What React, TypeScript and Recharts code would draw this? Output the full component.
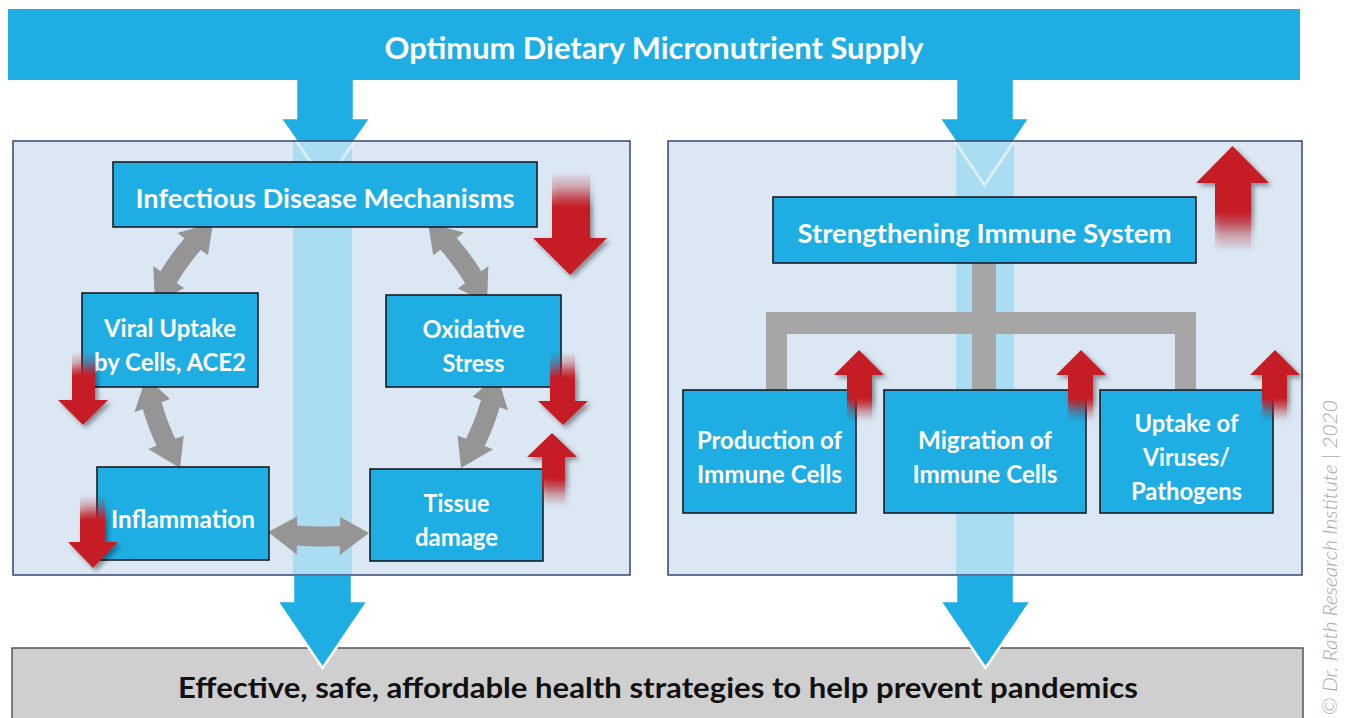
import React from 'react';
import { ComposedChart, XAxis, YAxis, ReferenceArea } from 'recharts';

// ---------------- data ----------------
const bannerText = 'Optimum Dietary Micronutrient Supply';
const footerText = 'Effective, safe, affordable health strategies to help prevent pandemics';
const creditText = '© Dr. Rath Research Institute | 2020';

const bannerBox = { x1: 8, x2: 1300, y1: 9, y2: 80 };
const footerBox = { x1: 12, x2: 1303, y1: 648, y2: 726 };
const creditBox = { x1: 1318, x2: 1340, y1: 400, y2: 715 };

const panelBoxes = [
  { x1: 13, x2: 630, y1: 141, y2: 575 },
  { x1: 668, x2: 1302, y1: 141, y2: 575 },
];

const bandBoxes = [
  { x1: 293, x2: 352, y1: 141, y2: 575 },
  { x1: 956, x2: 1014, y1: 141, y2: 575 },
];

const topArrows = [
  { x1: 280, x2: 371, shaftX1: 296, shaftX2: 354, y1: 70, headY: 118, y2: 183 },
  { x1: 939, x2: 1030, shaftX1: 956, shaftX2: 1014, y1: 70, headY: 118, y2: 185 },
];

const bottomArrows = [
  { x1: 277, x2: 368, shaftX1: 293, shaftX2: 352, y1: 576, headY: 601, y2: 668 },
  { x1: 940, x2: 1031, shaftX1: 956, shaftX2: 1014, y1: 576, headY: 601, y2: 668 },
];

const mechanismBoxes = [
  { lines: ['Infectious Disease Mechanisms'], x1: 113, x2: 537, y1: 162, y2: 227, big: true },
  { lines: ['Viral Uptake', 'by Cells, ACE2'], x1: 82, x2: 258, y1: 293, y2: 387 },
  { lines: ['Oxidative', 'Stress'], x1: 386, x2: 561, y1: 295, y2: 387 },
  { lines: ['Inflammation'], x1: 97, x2: 269, y1: 467, y2: 560 },
  { lines: ['Tissue', 'damage'], x1: 370, x2: 543, y1: 469, y2: 561 },
];

const immuneBoxes = [
  { lines: ['Strengthening Immune System'], x1: 773, x2: 1196, y1: 197, y2: 263, big: true },
  { lines: ['Production of', 'Immune Cells'], x1: 683, x2: 856, y1: 390, y2: 513 },
  { lines: ['Migration of', 'Immune Cells'], x1: 884, x2: 1086, y1: 390, y2: 513 },
  { lines: ['Uptake of', 'Viruses/', 'Pathogens'], x1: 1100, x2: 1273, y1: 390, y2: 513 },
];

// grey two-headed links between mechanism boxes (end A -> end B)
const links = [
  { ax: 155, ay: 303, bx: 213, by: 223, bend: -5 },
  { ax: 428, ay: 223, bx: 487, by: 303, bend: -5 },
  { ax: 146, ay: 377, bx: 180, by: 468, bend: 5 },
  { ax: 497, ay: 375, bx: 461, by: 468, bend: -5 },
  { ax: 268, ay: 532, bx: 369, by: 533, bend: 4 },
];

// grey tree connector in the immune panel
const treeBars = [
  { x1: 972, x2: 996, y1: 262, y2: 313 },
  { x1: 766, x2: 1196, y1: 312, y2: 334 },
  { x1: 766, x2: 787, y1: 333, y2: 391 },
  { x1: 972, x2: 996, y1: 333, y2: 391 },
  { x1: 1175, x2: 1196, y1: 333, y2: 391 },
];

// red effect arrows (down = decreases, up = increases)
const redArrows = [
  { dir: 'down', x1: 533, x2: 607, shaftX1: 552, shaftX2: 590, tail: 172, solid: 207, headY: 238, tip: 275 },
  { dir: 'down', x1: 58, x2: 108, shaftX1: 72, shaftX2: 95, tail: 352, solid: 376, headY: 400, tip: 425 },
  { dir: 'down', x1: 68, x2: 118, shaftX1: 80, shaftX2: 105, tail: 495, solid: 520, headY: 542, tip: 568 },
  { dir: 'down', x1: 538, x2: 588, shaftX1: 550, shaftX2: 575, tail: 352, solid: 378, headY: 401, tip: 425 },
  { dir: 'up', x1: 527, x2: 577, shaftX1: 542, shaftX2: 565, tail: 505, solid: 478, headY: 457, tip: 433 },
  { dir: 'up', x1: 1196, x2: 1269, shaftX1: 1215, shaftX2: 1251, tail: 250, solid: 212, headY: 183, tip: 146 },
  { dir: 'up', x1: 834, x2: 884, shaftX1: 847, shaftX2: 872, tail: 420, solid: 398, headY: 375, tip: 350 },
  { dir: 'up', x1: 1056, x2: 1106, shaftX1: 1068, shaftX2: 1093, tail: 420, solid: 398, headY: 375, tip: 350 },
  { dir: 'up', x1: 1250, x2: 1300, shaftX1: 1262, shaftX2: 1287, tail: 420, solid: 398, headY: 375, tip: 350 },
];

// ---------------- styles ----------------
const BLUE = '#1EAEE3';
const PANEL = '#DBE8F4';
const BAND = '#AADCF2';
const PANEL_EDGE = '#33466F';
const GREY_LINK = '#959595';
const GREY_TREE = '#A6A6A6';
const RED = '#C61F28';
const FONT = 'Lato, "Open Sans", sans-serif';

const lineWidths: Record<string, number> = {
  [bannerText]: 539,
  [footerText]: 960,
  [creditText]: 315,
  'Infectious Disease Mechanisms': 379,
  'Strengthening Immune System': 374,
  'Viral Uptake': 132,
  'by Cells, ACE2': 152,
  'Oxidative': 102,
  'Stress': 62,
  'Inflammation': 144,
  'Tissue': 66,
  'damage': 83,
  'Production of': 145,
  'Immune Cells': 145,
  'Migration of': 134,
  'Uptake of': 104,
  'Viruses/': 87,
  'Pathogens': 111,
};

type Box = { x1: number; x2: number; y1: number; y2: number };

const area = (key: string, b: Box, shape: (p: any) => React.ReactElement) => (
  <ReferenceArea
    key={key}
    x1={b.x1}
    x2={b.x2}
    y1={b.y1}
    y2={b.y2}
    ifOverflow="visible"
    shape={shape}
  />
);

const plainRect = (fill: string, stroke?: string, sw = 1.5, opacity = 1) => (p: any) => (
  <rect
    x={p.x}
    y={p.y}
    width={p.width}
    height={p.height}
    fill={fill}
    fillOpacity={opacity}
    stroke={stroke || 'none'}
    strokeWidth={sw}
  />
);

const textLine = (s: string, x: number, y: number, size: number, fill: string, extra: any = {}) => (
  <text
    key={s + y}
    x={x}
    y={y}
    textAnchor="middle"
    fontFamily={FONT}
    fontWeight={700}
    fontSize={size}
    fill={fill}
    textLength={lineWidths[s]}
    lengthAdjust="spacingAndGlyphs"
    {...extra}
  >
    {s}
  </text>
);

const bannerShape = (p: any) => (
  <g>
    <rect x={p.x} y={p.y} width={p.width} height={p.height} fill={BLUE} />
    {textLine(bannerText, p.x + p.width / 2, p.y + p.height / 2 + 14, 31, '#FFFFFF')}
  </g>
);

const footerShape = (p: any) => (
  <g>
    <rect x={p.x} y={p.y} width={p.width} height={p.height} fill="#CFCFCF" stroke="#555" strokeWidth={1.5} />
    {textLine(footerText, 658, p.y + 50, 28, '#111111')}
  </g>
);

const creditShape = (p: any) => {
  const cx = p.x + p.width - 3;
  const cy = p.y + p.height / 2;
  return (
    <text
      x={cx}
      y={cy}
      transform={`rotate(-90 ${cx} ${cy})`}
      textAnchor="middle"
      fontFamily={FONT}
      fontStyle="italic"
      fontWeight={300}
      fontSize={20}
      fill="#A8A8A8"
      textLength={lineWidths[creditText]}
      lengthAdjust="spacingAndGlyphs"
    >
      {creditText}
    </text>
  );
};

const boxShape = (lines: string[], big?: boolean) => (p: any) => {
  const cx = p.x + p.width / 2;
  const cy = p.y + p.height / 2;
  const size = big ? 27 : 24;
  return (
    <g>
      <rect x={p.x} y={p.y} width={p.width} height={p.height} fill={BLUE} stroke="#1b1b24" strokeWidth={1.6} />
      {lines.map((s, i) =>
        textLine(s, cx, cy + (i - (lines.length - 1) / 2) * 34 + (big ? 13 : 14), size, '#FFFFFF')
      )}
    </g>
  );
};

type Flow = { x1: number; x2: number; shaftX1: number; shaftX2: number; y1: number; headY: number; y2: number };

const flowGeom = (a: Flow, p: any) => {
  const fx = (v: number) => p.x + ((v - a.x1) / (a.x2 - a.x1)) * p.width;
  const fy = (v: number) => p.y + ((v - a.y1) / (a.y2 - a.y1)) * p.height;
  return {
    L: fx(a.shaftX1),
    R: fx(a.shaftX2),
    top: fy(a.y1),
    hy: fy(a.headY),
    tip: fy(a.y2),
    left: p.x,
    right: p.x + p.width,
    mid: p.x + p.width / 2,
  };
};

const flowShape = (a: Flow) => (p: any) => {
  const g = flowGeom(a, p);
  const fill = `M${g.L},${g.top} L${g.R},${g.top} L${g.R},${g.hy} L${g.right},${g.hy} L${g.mid},${g.tip} L${g.left},${g.hy} L${g.L},${g.hy} Z`;
  const outline = `M${g.R},${g.top} L${g.R},${g.hy} L${g.right},${g.hy} L${g.mid},${g.tip} L${g.left},${g.hy} L${g.L},${g.hy} L${g.L},${g.top}`;
  return (
    <g>
      <path d={fill} fill={BLUE} />
      <path d={outline} fill="none" stroke="#FFFFFF" strokeWidth={2.5} />
    </g>
  );
};

const ghostShape = (a: Flow) => (p: any) => {
  const g = flowGeom(a, p);
  return (
    <path
      d={`M${g.left},${g.hy} L${g.mid},${g.tip} L${g.right},${g.hy}`}
      fill="none"
      stroke="#FFFFFF"
      strokeOpacity={0.55}
      strokeWidth={3}
    />
  );
};

const linkBox = (l: any): Box => ({
  x1: Math.min(l.ax, l.bx),
  x2: Math.max(l.ax, l.bx),
  y1: Math.min(l.ay, l.by),
  y2: Math.max(l.ay, l.by),
});

const linkShape = (l: any) => (p: any) => {
  const b = linkBox(l);
  const fx = (v: number) => p.x + ((v - b.x1) / (b.x2 - b.x1)) * p.width;
  const fy = (v: number) => p.y + ((v - b.y1) / (b.y2 - b.y1)) * p.height;
  const A = [fx(l.ax), fy(l.ay)];
  const B = [fx(l.bx), fy(l.by)];
  const dx = B[0] - A[0];
  const dy = B[1] - A[1];
  const len = Math.hypot(dx, dy);
  const nx = -dy / len;
  const ny = dx / len;
  const P = (t: number) => [
    A[0] + dx * t + nx * l.bend * 4 * t * (1 - t),
    A[1] + dy * t + ny * l.bend * 4 * t * (1 - t),
  ];
  const headL = 29;
  const hw = 19;
  const sw = 10;
  const s0 = headL / len;
  const s1 = 1 - s0;
  const upper: number[][] = [];
  const lower: number[][] = [];
  for (let k = 0; k <= 12; k++) {
    const t = s0 + ((s1 - s0) * k) / 12;
    const q = P(t);
    upper.push([q[0] + nx * sw, q[1] + ny * sw]);
    lower.push([q[0] - nx * sw, q[1] - ny * sw]);
  }
  const p0 = P(s0);
  const p1 = P(s1);
  const pts = [
    A,
    [p0[0] + nx * hw, p0[1] + ny * hw],
    ...upper,
    [p1[0] + nx * hw, p1[1] + ny * hw],
    B,
    [p1[0] - nx * hw, p1[1] - ny * hw],
    ...lower.reverse(),
    [p0[0] - nx * hw, p0[1] - ny * hw],
  ];
  return <polygon points={pts.map((q) => `${q[0]},${q[1]}`).join(' ')} fill={GREY_LINK} />;
};

const redBox = (a: any): Box => ({
  x1: a.x1,
  x2: a.x2,
  y1: Math.min(a.tail, a.tip),
  y2: Math.max(a.tail, a.tip),
});

const redShape = (a: any, i: number) => (p: any) => {
  const b = redBox(a);
  const fx = (v: number) => p.x + ((v - b.x1) / (b.x2 - b.x1)) * p.width;
  const fy = (v: number) => p.y + ((v - b.y1) / (b.y2 - b.y1)) * p.height;
  const L = fx(a.shaftX1);
  const R = fx(a.shaftX2);
  const T = fy(a.tail);
  const S = fy(a.solid);
  const H = fy(a.headY);
  const P = fy(a.tip);
  const mid = p.x + p.width / 2;
  const d = `M${L},${T} L${R},${T} L${R},${H} L${p.x + p.width},${H} L${mid},${P} L${p.x},${H} L${L},${H} Z`;
  const frac = Math.abs(S - T) / Math.abs(P - T);
  const down = a.dir === 'down';
  const gid = `redGrad${i}`;
  const fid = `redShadow${i}`;
  return (
    <g>
      <defs>
        <linearGradient id={gid} x1="0" y1={down ? '0' : '1'} x2="0" y2={down ? '1' : '0'}>
          <stop offset="0" stopColor={RED} stopOpacity={0} />
          <stop offset={frac * 0.45} stopColor={RED} stopOpacity={0.3} />
          <stop offset={frac} stopColor={RED} stopOpacity={1} />
          <stop offset="1" stopColor={RED} stopOpacity={1} />
        </linearGradient>
        <filter id={fid} x="-40%" y="-40%" width="180%" height="180%">
          <feDropShadow dx="3" dy="3" stdDeviation="2.5" floodColor="#000" floodOpacity="0.4" />
        </filter>
      </defs>
      <path d={d} fill={`url(#${gid})`} filter={`url(#${fid})`} />
    </g>
  );
};

const flowBox = (a: Flow): Box => ({ x1: a.x1, x2: a.x2, y1: a.y1, y2: a.y2 });

const anchorData = [{ x: 0, y: 0 }];

export default function App() {
  return (
    <div style={{ width: 1351, height: 718, background: '#FFFFFF' }}>
      <style>{'body{margin:0;background:#fff;}'}</style>
      <ComposedChart
        width={1351}
        height={718}
        data={anchorData}
        margin={{ top: 0, right: 0, bottom: 0, left: 0 }}
      >
        <XAxis type="number" dataKey="x" domain={[0, 1351]} allowDataOverflow hide />
        <YAxis type="number" dataKey="y" domain={[0, 718]} allowDataOverflow reversed hide />

        {topArrows.map((a, i) => area(`top${i}`, flowBox(a), flowShape(a)))}
        {area('banner', bannerBox, bannerShape)}

        {panelBoxes.map((b, i) => area(`panel${i}`, b, plainRect(PANEL)))}
        {bandBoxes.map((b, i) => area(`band${i}`, b, plainRect(BAND)))}
        {topArrows.map((a, i) => area(`ghost${i}`, flowBox(a), ghostShape(a)))}
        {panelBoxes.map((b, i) => area(`edge${i}`, b, plainRect('none', PANEL_EDGE, 1.5)))}

        {area('footer', footerBox, footerShape)}
        {bottomArrows.map((a, i) => area(`bottom${i}`, flowBox(a), flowShape(a)))}

        {links.map((l, i) => area(`link${i}`, linkBox(l), linkShape(l)))}
        {treeBars.map((b, i) => area(`tree${i}`, b, plainRect(GREY_TREE)))}

        {mechanismBoxes.map((b, i) => area(`mech${i}`, b, boxShape(b.lines, b.big)))}
        {immuneBoxes.map((b, i) => area(`imm${i}`, b, boxShape(b.lines, b.big)))}

        {redArrows.map((a, i) => area(`red${i}`, redBox(a), redShape(a, i)))}

        {area('credit', creditBox, creditShape)}
      </ComposedChart>
    </div>
  );
}
